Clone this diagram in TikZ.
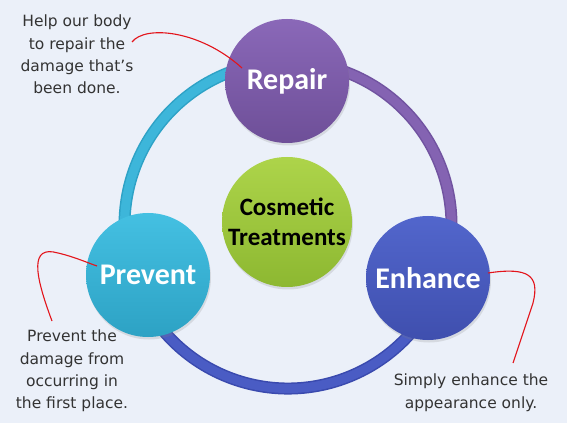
\documentclass[tikz,border=0pt]{standalone}
\usepackage{fontspec}
\usetikzlibrary{shadows}

\newfontfamily\boxfont{Carlito}
\newfontfamily\handfont{DejaVu Sans}

\definecolor{bgblue}{HTML}{EBF0F9}
\definecolor{repairtop}{HTML}{8A68B8}
\definecolor{repairbot}{HTML}{6E4F98}
\definecolor{preventtop}{HTML}{44C0E2}
\definecolor{preventbot}{HTML}{2DA2C4}
\definecolor{enhancetop}{HTML}{5266CC}
\definecolor{enhancebot}{HTML}{3F4FAE}
\definecolor{cosmetictop}{HTML}{ADD44A}
\definecolor{cosmeticbot}{HTML}{8DB831}
\definecolor{ringcyan}{HTML}{3DB6DA}
\definecolor{ringcyanedge}{HTML}{2EA2C6}
\definecolor{ringpurple}{HTML}{8463B2}
\definecolor{ringpurpleedge}{HTML}{7153A0}
\definecolor{ringblue}{HTML}{4A5CC4}
\definecolor{ringblueedge}{HTML}{3A4AAE}
\definecolor{notered}{HTML}{E3141B}
\definecolor{notegray}{HTML}{333333}

\begin{document}
\begin{tikzpicture}[x=1pt,y=1pt,
	bubble/.style={circle, minimum size=124pt, inner sep=0pt, text=white,
		font=\boxfont\bfseries\fontsize{30}{36}\selectfont,
		drop shadow={opacity=0.2, shadow xshift=1pt, shadow yshift=-2.5pt}},
	tube/.style={line width=1.5pt, double distance=9pt},
	note/.style={align=center, inner sep=0pt, text=notegray,
		font=\handfont\fontsize{15.5}{22.3}\selectfont},
	callout/.style={draw=notered, line width=1.1pt}]
	
	\useasboundingbox (0,0) rectangle (567,423);
	\fill[bgblue] (0,0) rectangle (567,423);
	
	% the ring, in three coloured parts
	\coordinate (hub) at (288,198);
	\draw[tube, draw=ringcyanedge, double=ringcyan] (hub) ++(200:163.5) arc[start angle=200, end angle=90, radius=163.5];
	\draw[tube, draw=ringpurpleedge, double=ringpurple] (hub) ++(90:163.5) arc[start angle=90, end angle=-20, radius=163.5];
	\draw[tube, draw=ringblueedge, double=ringblue] (hub) ++(-20:163.5) arc[start angle=-20, end angle=-160, radius=163.5];
	
	\node[bubble, minimum size=130pt, top color=cosmetictop, bottom color=cosmeticbot, text=black,
		font=\boxfont\bfseries\fontsize{25}{30}\selectfont, align=center] (cosmetic) at (287,201) {Cosmetic\\Treatments};
	
	\node[bubble, top color=repairtop, bottom color=repairbot] (repair) at (287,342) {Repair};
	
	\node[bubble, top color=preventtop, bottom color=preventbot] (prevent) at (148,148) {Prevent};
	
	\node[bubble, top color=enhancetop, bottom color=enhancebot] (enhance) at (428,145) {Enhance};
	
	% notes
	\node[note, anchor=north] (helpnote) at (77,408) {Help our body\\to repair the\\damage that’s\\been done.};
	
	\node[note, anchor=north] (preventnote) at (72,93) {Prevent the\\damage from\\occurring in\\the first place.};
	
	\node[note, anchor=north] (enhancenote) at (471,49) {Simply enhance the\\appearance only.};
	
	\coordinate (helptail) at (132,381);
	\coordinate (repairtip) at (242,355);
	\coordinate (preventtail) at (52,102);
	\coordinate (preventtip) at (97,157);
	\coordinate (enhancetail) at (513,60);
	\coordinate (enhancetip) at (488,150);
	
	\draw[callout] (helptail) .. controls (145,398) and (200,393) .. (repairtip);
	\draw[callout] (preventtail) .. controls (34,150) and (30,178) .. (58,170) .. controls (75,166) and (88,160) .. (preventtip);
	\draw[callout] (enhancetip) .. controls (528,156) and (540,148) .. (533,120) -- (enhancetail);
	
\end{tikzpicture}
\end{document}
